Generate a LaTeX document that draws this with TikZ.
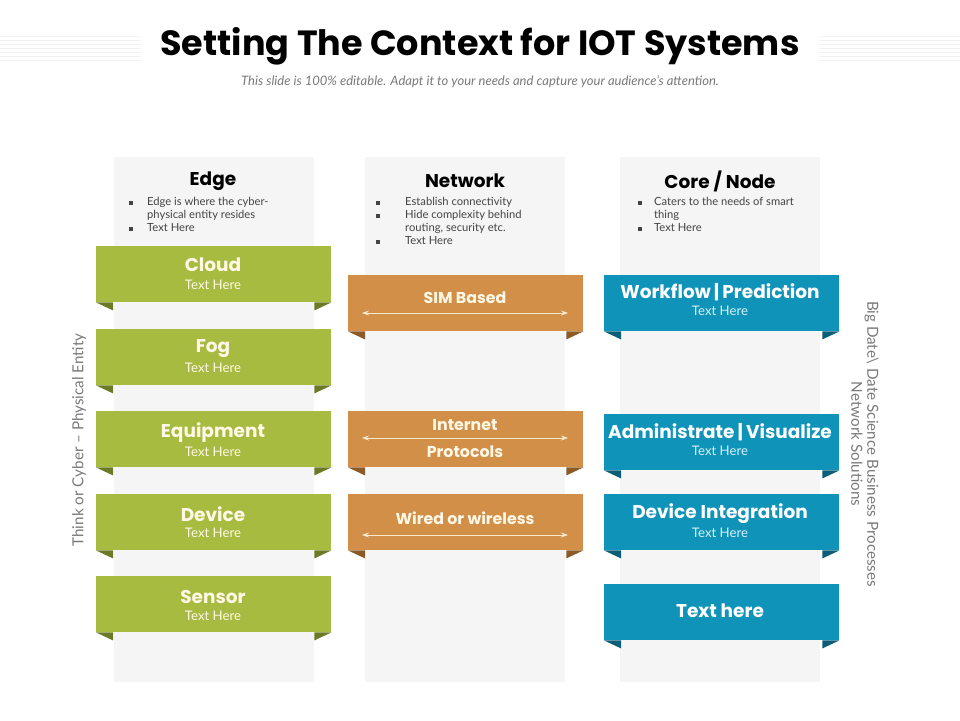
\documentclass[tikz,border=0pt]{standalone}
\usepackage{fontspec}
\setmainfont{Lato}
\newfontfamily\popf{Poppins}
\usetikzlibrary{arrows.meta}
\definecolor{colbg}{HTML}{F5F5F5}
\definecolor{grn}{HTML}{A6BB40}
\definecolor{grnd}{HTML}{6B7A25}
\definecolor{org}{HTML}{D28F48}
\definecolor{orgd}{HTML}{8C5A26}
\definecolor{blu}{HTML}{1093B9}
\definecolor{blud}{HTML}{0A5E78}
\definecolor{cream}{HTML}{FFF8E6}
\definecolor{lcyan}{HTML}{D6F2FA}
\definecolor{txtg}{HTML}{444444}
\definecolor{subg}{HTML}{7A7A7A}
\newcommand\myrib[5]{%
  \node[ribbon,fill=#4] (#1) at (#2,#3) {};
  \fill[#5] (#1.south west) -- ++(17,0) -- ++(0,8) -- cycle;
  \fill[#5] (#1.south east) -- ++(-17,0) -- ++(0,8) -- cycle;}
\newcommand\mybul[2]{\fill[txtg] (#1-1.6,#2-1.6) rectangle (#1+1.6,#2+1.6);}
\begin{document}
\begin{tikzpicture}[x=1pt,y=-1pt,
  colbox/.style={fill=colbg,draw=none,minimum width=200pt,minimum height=525pt,anchor=north west,inner sep=0pt},
  ribbon/.style={draw=none,minimum width=235pt,minimum height=56pt,anchor=north west,inner sep=0pt},
  head/.style={font=\popf\bfseries\fontsize{18.5}{22}\selectfont,text=black,inner sep=0pt},
  btxt/.style={font=\fontsize{11.2}{13}\selectfont,text=txtg,align=left,anchor=north west,inner sep=0pt},
  rmain/.style={font=\popf\bfseries\fontsize{18.5}{21}\selectfont,text=cream,inner sep=0pt},
  rsub/.style={font=\fontsize{13.2}{15}\selectfont,text=cream,inner sep=0pt},
  omain/.style={font=\popf\bfseries\fontsize{15.8}{18}\selectfont,text=cream,inner sep=0pt},
  bsub/.style={font=\fontsize{13.2}{15}\selectfont,text=lcyan,inner sep=0pt},
  darr/.style={draw=cream!85!org,line width=0.8pt,{Stealth[length=7pt,width=5pt]}-{Stealth[length=7pt,width=5pt]}},
  side/.style={font=\fontsize{15.2}{16}\selectfont,text=subg,inner sep=0pt}]
\useasboundingbox[fill=white] (0,0) rectangle (960,720);
% title stripes
\foreach \yy in {36,40,44,48,52,56,60}{
  \draw[gray!12,line width=1pt] (0,\yy) -- (140,\yy);
  \draw[gray!12,line width=1pt] (820,\yy) -- (960,\yy);}
\node[font=\popf\bfseries\fontsize{35}{40}\selectfont,inner sep=0pt] (title) at (480,46) {Setting The Context for IOT Systems};
\node[font=\itshape\fontsize{13}{14}\selectfont,text=subg,inner sep=0pt] (subtitle) at (480,82) {This slide is 100\% editable. Adapt it to your needs and capture your audience’s attention.};
% columns
\node[colbox] (c1) at (114,157) {};
\node[colbox] (c2) at (365,157) {};
\node[colbox] (c3) at (620,157) {};
% headers
\node[head] (h1) at (213,181) {Edge};
\node[head] (h2) at (465,181) {Network};
\node[head] (h3) at (720,181) {Core / Node};
% bullets
\mybul{131}{203}\mybul{131}{229}
\node[btxt] (b1) at (147,197) {Edge is where the cyber-\\physical entity resides\\Text Here};
\mybul{378}{203}\mybul{378}{216}\mybul{378}{242}
\node[btxt] (b2) at (405,197) {Establish connectivity\\Hide complexity behind\\routing, security etc.\\Text Here};
\mybul{640}{203}\mybul{640}{229}
\node[btxt] (b3) at (654,197) {Caters to the needs of smart\\thing\\Text Here};
% green ribbons
\myrib{g1}{96}{246}{grn}{grnd}
\myrib{g2}{96}{329}{grn}{grnd}
\myrib{g3}{96}{411}{grn}{grnd}
\myrib{g4}{96}{494}{grn}{grnd}
\myrib{g5}{96}{576}{grn}{grnd}
\node[rmain] at (213,265) {Cloud};      \node[rsub] at (213,285) {Text Here};
\node[rmain] at (213,349) {Fog};        \node[rsub] at (213,368) {Text Here};
\node[rmain] at (213,433) {Equipment};  \node[rsub] at (213,452) {Text Here};
\node[rmain] at (213,514) {Device};     \node[rsub] at (213,533) {Text Here};
\node[rmain] at (213,597) {Sensor};     \node[rsub] at (213,616) {Text Here};
% orange ribbons
\myrib{o1}{348}{275}{org}{orgd}
\myrib{o2}{348}{411}{org}{orgd}
\myrib{o3}{348}{494}{org}{orgd}
\node[omain] at (465,298) {SIM Based};
\coordinate (o1l) at (362,313); \coordinate (o1r) at (568,313);
\draw[darr] (o1l) -- (o1r);
\node[omain] at (465,425) {Internet};
\coordinate (o2l) at (362,438); \coordinate (o2r) at (568,438);
\draw[darr] (o2l) -- (o2r);
\node[omain] at (465,452) {Protocols};
\node[omain] at (465,518) {Wired or wireless};
\coordinate (o3l) at (362,535); \coordinate (o3r) at (568,535);
\draw[darr] (o3l) -- (o3r);
% blue ribbons
\myrib{u1}{604}{275}{blu}{blud}
\myrib{u2}{604}{414}{blu}{blud}
\myrib{u3}{604}{494}{blu}{blud}
\myrib{u4}{604}{584}{blu}{blud}
\node[rmain,text=white] at (720,292) {Workflow\,|\,Prediction};      \node[bsub] at (720,311) {Text Here};
\node[rmain,text=white] at (720,432) {Administrate\,|\,Visualize};   \node[bsub] at (720,451) {Text Here};
\node[rmain,text=white] at (720,514) {Device Integration};           \node[bsub] at (720,533) {Text Here};
\node[rmain,text=white] at (720,611) {Text here};
% side labels
\node[side,rotate=90] (ls) at (79,440) {Think or Cyber – Physical Entity};
\node[side,rotate=-90,align=center] (rs) at (865,444) {Big Date\textbackslash{} Date Science Business Processes\\Network Solutions};
\end{tikzpicture}
\end{document}
